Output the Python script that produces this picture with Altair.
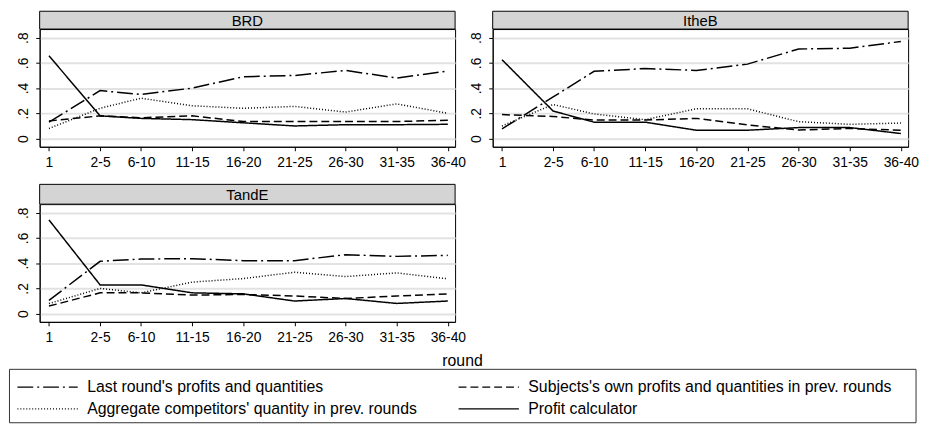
import json
import altair as alt
import pandas as pd

# ---------------- data ----------------
round_pos = [1, 6, 10, 15, 20, 25, 30, 35, 40]
round_labels = ["1", "2-5", "6-10", "11-15", "16-20", "21-25", "26-30", "31-35", "36-40"]
y_ticks = [0, 0.2, 0.4, 0.6, 0.8]

series = [
    "Last round's profits and quantities",
    "Subjects's own profits and quantities in prev. rounds",
    "Aggregate competitors' quantity in prev. rounds",
    "Profit calculator",
]

brd_last = [0.13, 0.38, 0.35, 0.40, 0.49, 0.50, 0.54, 0.48, 0.535]
brd_own = [0.14, 0.18, 0.165, 0.18, 0.135, 0.135, 0.135, 0.135, 0.145]
brd_agg = [0.08, 0.24, 0.32, 0.26, 0.24, 0.255, 0.21, 0.275, 0.20]
brd_calc = [0.656, 0.18, 0.16, 0.15, 0.125, 0.10, 0.11, 0.11, 0.113]

ithe_last = [0.076, 0.33, 0.533, 0.555, 0.54, 0.59, 0.71, 0.716, 0.77]
ithe_own = [0.19, 0.175, 0.147, 0.147, 0.16, 0.108, 0.068, 0.08, 0.066]
ithe_agg = [0.10, 0.27, 0.195, 0.15, 0.236, 0.236, 0.134, 0.113, 0.123]
ithe_calc = [0.625, 0.218, 0.13, 0.13, 0.066, 0.066, 0.087, 0.087, 0.04]

tande_last = [0.105, 0.415, 0.433, 0.436, 0.42, 0.42, 0.467, 0.454, 0.462]
tande_own = [0.06, 0.165, 0.165, 0.147, 0.152, 0.14, 0.12, 0.14, 0.157]
tande_agg = [0.08, 0.20, 0.165, 0.25, 0.278, 0.328, 0.294, 0.323, 0.276]
tande_calc = [0.743, 0.228, 0.228, 0.165, 0.157, 0.10, 0.12, 0.081, 0.10]

panels = {
    "BRD": [brd_last, brd_own, brd_agg, brd_calc],
    "ItheB": [ithe_last, ithe_own, ithe_agg, ithe_calc],
    "TandE": [tande_last, tande_own, tande_agg, tande_calc],
}

rows = []
for treat, lists in panels.items():
    for s, vals in zip(series, lists):
        for p, v in zip(round_pos, vals):
            rows.append({"treatment": treat, "pos": p, "series": s, "value": v})
df = pd.DataFrame(rows)

FONT = "Liberation Sans"
W, H = 420, 119

x_label_expr = f"{json.dumps(round_labels)}[indexof({json.dumps(round_pos)}, datum.value)]"
y_label_expr = "datum.value == 0 ? '0' : replace(format(datum.value, '.1f'), '0.', '.')"

dash_scale = alt.Scale(domain=series, range=[[16, 4, 2, 4], [8, 4], [1, 2], [1, 0]])


def panel(name, hdr_h, xtitle=None, legend_box=False):
    data = df[df.treatment == name]
    xaxis = dict(values=round_pos, labelExpr=x_label_expr, grid=False, tickSize=4,
                 labelPadding=5, labelFontSize=14, labelFont=FONT, labelColor="black",
                 tickColor="black", domainColor="black", labelFlush=False)
    if xtitle:
        xaxis.update(title=xtitle, titleFont=FONT, titleFontSize=16, titleFontWeight="normal",
                     titleX=427, titleY=39, titleAlign="center", titleBaseline="middle",
                     titleColor="black")
    else:
        xaxis.update(title=None)
    lines = alt.Chart(data).mark_line(color="black", strokeWidth=1.5).encode(
        x=alt.X("pos:Q", scale=alt.Scale(domain=[0.09, 40.71], nice=False, zero=False),
                axis=alt.Axis(**xaxis)),
        y=alt.Y("value:Q", scale=alt.Scale(domain=[-0.065, 0.868], nice=False, zero=False),
                axis=alt.Axis(values=y_ticks, labelExpr=y_label_expr, title=None, labelAngle=270,
                              labelAlign="center", labelBaseline="bottom", labelPadding=5,
                              tickSize=4, labelFontSize=14, labelFont=FONT, labelColor="black",
                              tickColor="black", domainColor="black", grid=True,
                              gridColor="#e2e2e2", gridWidth=2)),
        strokeDash=alt.StrokeDash(
            "series:N", scale=dash_scale, sort=series,
            legend=alt.Legend(title=None, orient="none", legendX=-3, legendY=351, columns=2,
                              direction="horizontal",
                              symbolType="M-3,0H3", symbolSize=413, symbolStrokeWidth=1.3,
                              symbolStrokeColor="black", labelFontSize=16, labelFont=FONT,
                              labelColor="black", labelOffset=29, columnPadding=38, rowPadding=3,
                              labelLimit=600, padding=0)),
    )
    hdr = pd.DataFrame({"label": [name]})
    rect = alt.Chart(hdr).mark_rect(fill="#d4d4d4", stroke="black", strokeWidth=1).encode(
        x=alt.value(0), x2=alt.value(W), y=alt.value(-hdr_h), y2=alt.value(0))
    txt = alt.Chart(hdr).mark_text(font=FONT, fontSize=15, color="black", baseline="middle").encode(
        x=alt.value(W / 2), y=alt.value(-hdr_h / 2 + 1), text="label:N")
    layers = [lines, rect, txt]
    if legend_box:
        box = alt.Chart(hdr).mark_rect(fill=None, stroke="#333333", strokeWidth=1).encode(
            x=alt.value(-30.5), x2=alt.value(886), y=alt.value(167), y2=alt.value(221))
        layers.append(box)
    return alt.layer(*layers).properties(width=W, height=H)


chart = alt.concat(
    panel("BRD", 18), panel("ItheB", 18), panel("TandE", 20, xtitle="round", legend_box=True),
    columns=2, spacing={"row": 58, "column": 38}, bounds="flush",
).properties(
    padding=0, background="white"
).configure_view(stroke="black", strokeWidth=1)

chart.save("out.html", embed_options={"renderer": "svg", "actions": False})
